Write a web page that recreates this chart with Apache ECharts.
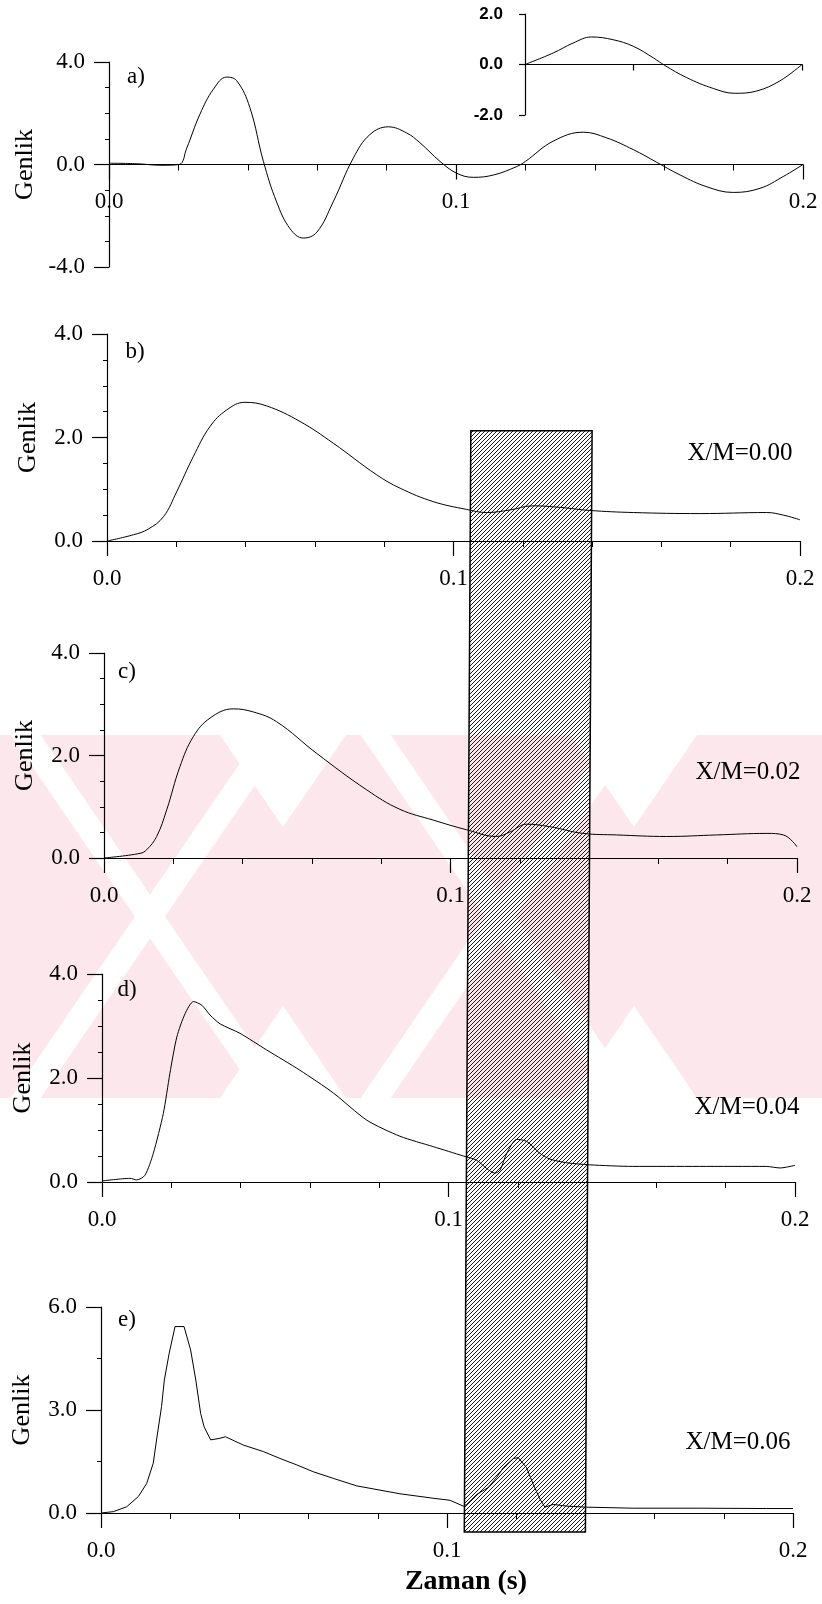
<!DOCTYPE html>
<html>
<head>
<meta charset="utf-8">
<script src="https://cdn.jsdelivr.net/npm/echarts@6/dist/echarts.min.js"></script>
<style>
  html, body { margin: 0; padding: 0; background: #fff; }
  #chart { width: 822px; height: 1604px; }
</style>
</head>
<body>
<div id="chart"></div>
<script>
// panel a) incoming wave (time in s, amplitude)
var timeA = [0, 0.008, 0.015, 0.0202, 0.0224, 0.0262, 0.0301, 0.0339, 0.0368, 0.0406, 0.0445, 0.0483, 0.0522, 0.056, 0.0599, 0.0646, 0.0704, 0.0752, 0.0805, 0.0858, 0.0896, 0.0954, 0.1002, 0.105, 0.1108, 0.1175, 0.12, 0.128, 0.1367, 0.1434, 0.1511, 0.1578, 0.1646, 0.1723, 0.1799, 0.1876, 0.1943, 0.2];
var ampA = [0.05, 0.03, -0.03, 0.0, 0.64, 1.96, 2.94, 3.41, 3.27, 2.22, 0.12, -1.46, -2.51, -2.87, -2.64, -1.46, 0.25, 1.17, 1.47, 1.23, 0.85, 0.12, -0.34, -0.5, -0.41, -0.08, 0.12, 0.91, 1.26, 1.04, 0.58, 0.09, -0.41, -0.87, -1.09, -0.93, -0.47, 0.0];

// inset of panel a)
var timeInset = [0.12, 0.1282, 0.1339, 0.1392, 0.1455, 0.1513, 0.1571, 0.1604, 0.1667, 0.1744, 0.1806, 0.1869, 0.1936, 0.2];
var ampInset = [0, 0.46, 0.85, 1.09, 0.98, 0.72, 0.26, -0.04, -0.52, -0.95, -1.14, -1.05, -0.65, 0];

// panel b) X/M=0.00
var timeB = [0, 0.0076, 0.0119, 0.0163, 0.0201, 0.0249, 0.0297, 0.0345, 0.0398, 0.0461, 0.0557, 0.0653, 0.0778, 0.0846, 0.0942, 0.1038, 0.1096, 0.1163, 0.123, 0.1307, 0.1394, 0.1519, 0.1711, 0.1904, 0.1952, 0.2];
var ampB = [0, 0.12, 0.23, 0.47, 0.95, 1.63, 2.21, 2.53, 2.68, 2.61, 2.31, 1.89, 1.28, 1.02, 0.76, 0.61, 0.55, 0.6, 0.68, 0.65, 0.59, 0.55, 0.53, 0.55, 0.5, 0.41];

// panel c) X/M=0.02
var timeC = [0, 0.0104, 0.0123, 0.0152, 0.0181, 0.0219, 0.0258, 0.0306, 0.0373, 0.0431, 0.0498, 0.0614, 0.0758, 0.0854, 0.095, 0.1047, 0.1133, 0.1172, 0.122, 0.1287, 0.1383, 0.148, 0.1624, 0.1768, 0.1913, 0.1961, 0.2];
var ampC = [0, 0.09, 0.16, 0.42, 0.94, 1.78, 2.37, 2.73, 2.91, 2.85, 2.66, 2.04, 1.33, 0.95, 0.74, 0.55, 0.42, 0.51, 0.66, 0.61, 0.48, 0.45, 0.42, 0.45, 0.48, 0.45, 0.22];

// panel d) X/M=0.04
var timeD = [0, 0.0081, 0.01, 0.0124, 0.0148, 0.0177, 0.0196, 0.0216, 0.024, 0.0264, 0.0288, 0.0312, 0.0341, 0.0398, 0.0475, 0.0571, 0.0668, 0.0764, 0.086, 0.0956, 0.1043, 0.1081, 0.111, 0.1134, 0.1149, 0.1168, 0.1197, 0.1226, 0.1264, 0.1293, 0.1341, 0.1408, 0.1532, 0.1725, 0.1917, 0.1957, 0.2];
var ampD = [0.02, 0.07, 0.04, 0.13, 0.55, 1.32, 2.09, 2.79, 3.24, 3.47, 3.4, 3.21, 3.04, 2.86, 2.54, 2.15, 1.71, 1.19, 0.88, 0.68, 0.5, 0.42, 0.26, 0.17, 0.23, 0.55, 0.82, 0.78, 0.55, 0.44, 0.37, 0.33, 0.3, 0.3, 0.3, 0.27, 0.32];

// panel e) X/M=0.06
var timeE = [0, 0.0036, 0.0074, 0.0108, 0.0132, 0.0151, 0.0163, 0.0175, 0.0183, 0.0197, 0.0214, 0.024, 0.0259, 0.0274, 0.0288, 0.0298, 0.0317, 0.0341, 0.036, 0.0411, 0.0469, 0.0517, 0.0566, 0.0614, 0.0671, 0.0739, 0.0777, 0.0864, 0.096, 0.1009, 0.1047, 0.1057, 0.1086, 0.1119, 0.1143, 0.1163, 0.1192, 0.1206, 0.123, 0.1249, 0.1269, 0.1283, 0.1307, 0.1346, 0.1404, 0.1538, 0.1731, 0.1924, 0.2];
var ampE = [0, 0.04, 0.18, 0.48, 0.86, 1.45, 2.3, 3.1, 3.87, 4.65, 5.43, 5.43, 4.75, 3.87, 2.9, 2.51, 2.13, 2.17, 2.22, 1.98, 1.79, 1.59, 1.4, 1.2, 1.01, 0.79, 0.72, 0.56, 0.43, 0.37, 0.2, 0.25, 0.54, 0.74, 1.03, 1.32, 1.59, 1.61, 1.32, 0.84, 0.4, 0.17, 0.25, 0.2, 0.17, 0.14, 0.14, 0.13, 0.13];

// shaded time window and its vertical reach (b top / e bottom)
var bandTime = [0.105, 0.140];
var bandTopB = 2.13;
var bandBottomE = -0.55;

var xTicksInset = [0.1513, 0.2];
var ratioLabels = ['X/M=0.00', 'X/M=0.02', 'X/M=0.04', 'X/M=0.06'];
var panelLabels = ['a)', 'b)', 'c)', 'd)', 'e)'];

var serif = '"Liberation Serif", "DejaVu Serif", serif';

function zip(t, v) {
  return t.map(function (x, i) { return [x, v[i]]; });
}

function xAxis(grid) {
  return {
    type: 'value', gridIndex: grid, min: 0, max: 0.2, interval: 0.1, z: 3,
    axisLine: { show: true, onZero: false, lineStyle: { color: '#000', width: 1.2 } },
    axisTick: { show: true, length: 15, lineStyle: { color: '#000', width: 1.2 } },
    minorTick: { show: true, splitNumber: 5, length: 6, lineStyle: { color: '#000', width: 1 } },
    axisLabel: { margin: 26, fontFamily: serif, fontSize: 23, color: '#000',
      formatter: function (v) { return v.toFixed(1); } },
    splitLine: { show: false }
  };
}

function yAxis(grid, min, max, interval, minorSplit) {
  return {
    type: 'value', gridIndex: grid, min: min, max: max, interval: interval,
    name: 'Genlik', nameLocation: 'middle', nameGap: 66,
    nameTextStyle: { fontFamily: serif, fontSize: 26, color: '#000' },
    axisLine: { show: true, onZero: false, lineStyle: { color: '#000', width: 1.2 } },
    axisTick: { show: true, length: 15, lineStyle: { color: '#000', width: 1.2 } },
    minorTick: { show: true, splitNumber: minorSplit, length: 4, lineStyle: { color: '#000', width: 1 } },
    axisLabel: { margin: 24, fontFamily: serif, fontSize: 23, color: '#000',
      formatter: function (v) { return v.toFixed(1); } },
    splitLine: { show: false }
  };
}

function line(idx, data, smooth) {
  return {
    type: 'line', xAxisIndex: idx, yAxisIndex: idx, data: data,
    showSymbol: false, smooth: smooth, z: 4,
    lineStyle: { color: '#000', width: 1 }
  };
}

function txt(s, x, y, size, extra) {
  return {
    type: 'text', x: x, y: y, z: 5,
    style: Object.assign({ text: s, fill: '#000', font: size + 'px ' + serif,
      align: 'center', verticalAlign: 'middle', textAlign: 'center', textVerticalAlign: 'middle' }, extra || {})
  };
}

// faint watermark of the scanned page: pink band with white notches and thin white lines
function watermark() {
  var top = 735, bottom = 1098, cy = (top + bottom) / 2, k = 0.685;
  var pink = '#fce8ec';
  function poly(pts, fill) {
    return { type: 'polygon', z: -5, silent: true, shape: { points: pts }, style: { fill: fill } };
  }
  var els = [poly([[0, top], [822, top], [822, bottom], [0, bottom]], pink)];
  var half = (cy - top) * k;
  [283, 634].forEach(function (cx) {
    els.push(poly([[cx - 63, top], [cx + 63, top], [cx, top + 92]], '#fff'));
    els.push(poly([[cx - 63, bottom], [cx + 63, bottom], [cx, bottom - 92]], '#fff'));
  });
  [150, 500].forEach(function (cx) {
    var w = 15;
    els.push(poly([[cx - half - w, top], [cx - half + w, top], [cx + half + w, bottom], [cx + half - w, bottom]], '#fff'));
    els.push(poly([[cx + half - w, top], [cx + half + w, top], [cx - half + w, bottom], [cx - half - w, bottom]], '#fff'));
  });
  return els;
}

function hatch() {
  var c = document.createElement('canvas');
  c.width = 4; c.height = 4;
  var g = c.getContext('2d');
  g.strokeStyle = '#1a1a1a';
  g.lineWidth = 1;
  g.beginPath();
  g.moveTo(-1, 5); g.lineTo(5, -1);
  g.moveTo(-1, 1); g.lineTo(1, -1);
  g.moveTo(3, 5); g.lineTo(5, 3);
  g.stroke();
  return c;
}

var chart = echarts.init(document.getElementById('chart'), null, { renderer: 'canvas' });

var gridA = { left: 109, right: 19, top: 62, height: 205 };

// panel a): the time axis runs through amplitude 0, in the middle of the grid
var xA = xAxis(0);
xA.offset = -gridA.height / 2;

var inset = yAxis(5, -2, 2, 2, 1);
inset.name = '';
inset.axisTick.length = 6;
inset.minorTick.show = false;
inset.axisLabel = { margin: 22, fontFamily: '"Liberation Sans", Arial, sans-serif', fontWeight: 'bold',
  fontSize: 17, color: '#000', formatter: function (v) { return v.toFixed(1); } };

var insetX = xAxis(5);
insetX.min = 0.12;
insetX.interval = 0.04;
insetX.offset = -101 / 2;
insetX.axisLabel = { show: false };
insetX.minorTick = { show: false };
insetX.axisTick = { show: true, length: 6, customValues: xTicksInset, lineStyle: { color: '#000', width: 1.2 } };

chart.setOption({
  animation: false,
  backgroundColor: '#fff',
  grid: [
    gridA,
    { left: 107, right: 22, top: 334, height: 207 },
    { left: 104, right: 25, top: 653, height: 205 },
    { left: 102, right: 27, top: 974, height: 208 },
    { left: 101, right: 29, top: 1307, height: 206 },
    { left: 525, right: 20, top: 14, height: 101 }
  ],
  xAxis: [xA, xAxis(1), xAxis(2), xAxis(3), xAxis(4), insetX],
  yAxis: [
    yAxis(0, -4, 4, 4, 4),
    yAxis(1, 0, 4, 2, 4),
    yAxis(2, 0, 4, 2, 4),
    yAxis(3, 0, 4, 2, 4),
    yAxis(4, 0, 6, 3, 2),
    inset
  ],
  series: [
    line(0, zip(timeA, ampA), 0.4),
    line(1, zip(timeB, ampB), 0.4),
    line(2, zip(timeC, ampC), 0.4),
    line(3, zip(timeD, ampD), 0.25),
    line(4, zip(timeE, ampE), false),
    line(5, zip(timeInset, ampInset), 0.4)
  ]
});

var tl = chart.convertToPixel({ gridIndex: 1 }, [bandTime[0], bandTopB]);
var tr = chart.convertToPixel({ gridIndex: 1 }, [bandTime[1], bandTopB]);
var bl = chart.convertToPixel({ gridIndex: 4 }, [bandTime[0], bandBottomE]);
var br = chart.convertToPixel({ gridIndex: 4 }, [bandTime[1], bandBottomE]);

var g = watermark();
g.push({
  type: 'polygon', z: 2,
  shape: { points: [tl, tr, br, bl] },
  style: { fill: { image: hatch(), repeat: 'repeat' }, stroke: '#000', lineWidth: 1.5 }
});
g.push(txt(panelLabels[0], 136, 77, 23));
g.push(txt(panelLabels[1], 135, 352, 23));
g.push(txt(panelLabels[2], 127, 672, 23));
g.push(txt(panelLabels[3], 127, 990, 23));
g.push(txt(panelLabels[4], 127, 1320, 23));
g.push(txt(ratioLabels[0], 740, 453, 25));
g.push(txt(ratioLabels[1], 748, 772, 25));
g.push(txt(ratioLabels[2], 747, 1107, 25));
g.push(txt(ratioLabels[3], 738, 1442, 25));
g.push(txt('Zaman (s)', 466, 1582, 28, { font: 'bold 28px ' + serif }));

chart.setOption({ graphic: { elements: g } });
</script>
</body>
</html>
